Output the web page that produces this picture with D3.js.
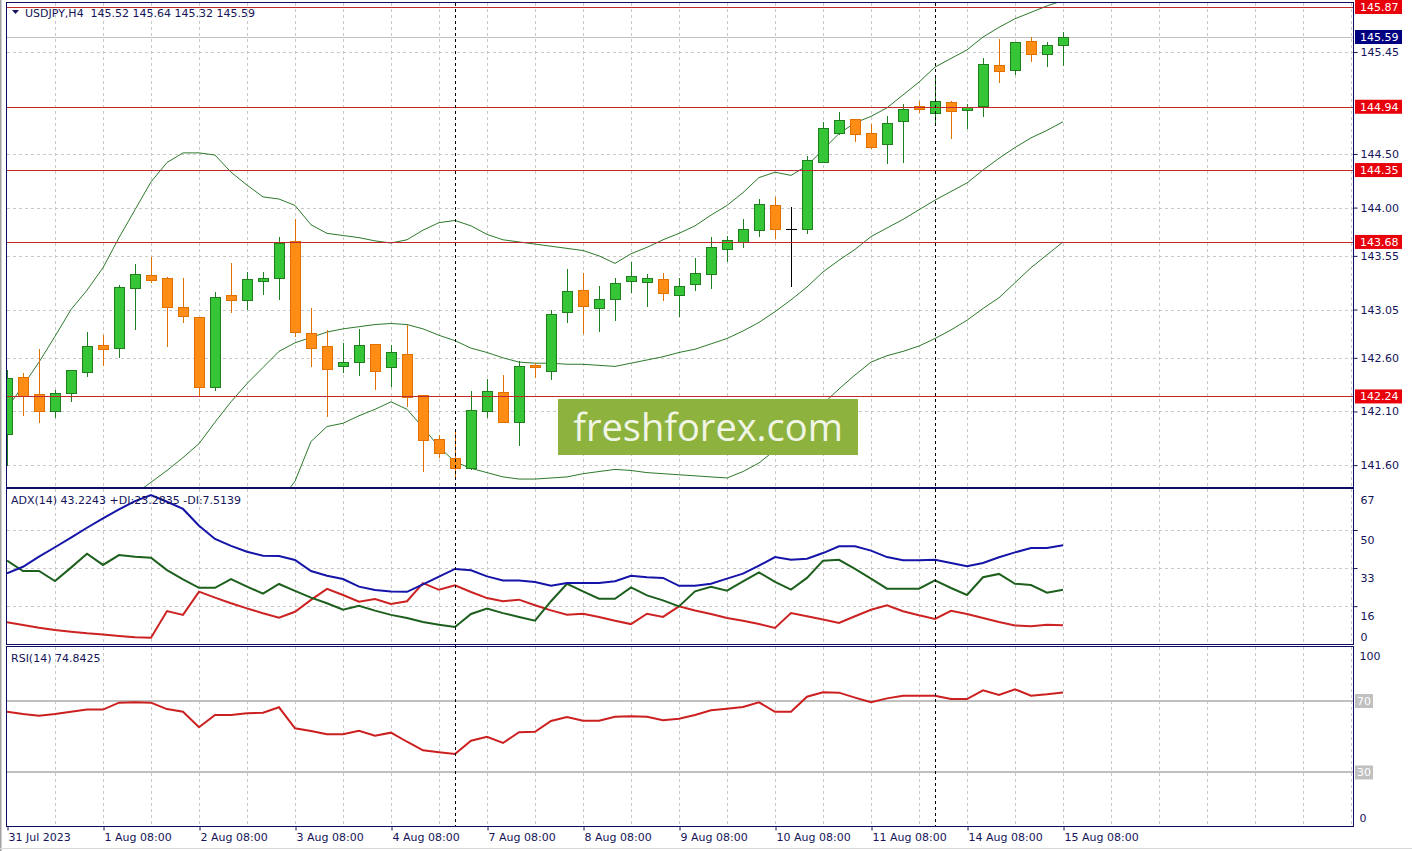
<!DOCTYPE html>
<meta charset="utf-8">
<style>
body { margin: 0; background: #fff; }
svg text { font-family: "DejaVu Sans", sans-serif; font-size: 11px; fill: #14145a; }
</style>
<svg width="1412" height="851"></svg>
<script src="https://d3js.org/d3.v7.min.js"></script>
<script>

var svg = d3.select("svg");
var left = 7, right = 1353;

// USDJPY H4 candles, 31 Jul 08:00 .. 15 Aug 08:00
var open = [141.89, 142.42, 142.26, 142.10, 142.28, 142.47, 142.72, 142.69, 143.25, 143.37,
            143.34, 143.07, 142.98, 142.33, 143.19, 143.13, 143.31, 143.34, 143.69, 142.83,
            142.71, 142.52, 142.56, 142.73, 142.51, 142.64, 142.25, 141.84, 141.67, 141.57,
            142.10, 142.28, 142.00, 142.53, 142.48, 143.02, 143.23, 143.07, 143.15, 143.31,
            143.30, 143.33, 143.19, 143.29, 143.38, 143.62, 143.68, 143.79, 144.02, 143.80,
            143.80, 144.42, 144.70, 144.83, 144.70, 144.59, 144.81, 144.95, 144.88, 144.98,
            144.91, 144.95, 145.33, 145.28, 145.55, 145.44, 145.52];
var high = [142.49, 142.46, 142.68, 142.30, 142.49, 142.84, 142.81, 143.28, 143.47, 143.54,
            143.35, 143.34, 142.98, 143.21, 143.48, 143.40, 143.40, 143.73, 143.89, 143.06,
            142.86, 142.74, 142.87, 142.73, 142.72, 142.91, 142.25, 141.88, 141.94, 142.29,
            142.40, 142.44, 142.57, 142.55, 143.05, 143.43, 143.39, 143.27, 143.34, 143.49,
            143.38, 143.39, 143.34, 143.53, 143.73, 143.74, 143.89, 144.08, 144.10, 144.01,
            144.48, 144.80, 144.89, 144.83, 144.78, 144.85, 144.97, 144.99, 145.24, 144.99,
            144.97, 145.39, 145.57, 145.54, 145.59, 145.54, 145.64];
var low = [141.59, 142.06, 141.99, 142.04, 142.19, 142.42, 142.52, 142.60, 142.86, 143.30,
           142.70, 142.92, 142.24, 142.29, 143.02, 143.05, 143.19, 143.14, 142.79, 142.51,
           142.05, 142.46, 142.43, 142.30, 142.33, 142.14, 141.54, 141.67, 141.49, 141.55,
           142.04, 141.99, 141.78, 142.41, 142.39, 142.92, 142.82, 142.84, 142.94, 143.20,
           143.07, 143.13, 142.98, 143.22, 143.24, 143.49, 143.62, 143.73, 143.71, 143.26,
           143.75, 144.42, 144.68, 144.61, 144.55, 144.41, 144.42, 144.88, 144.78, 144.64,
           144.73, 144.84, 145.16, 145.24, 145.36, 145.31, 145.32];
var close = [142.41, 142.24, 142.10, 142.27, 142.49, 142.71, 142.68, 143.26, 143.38, 143.32,
             143.07, 142.99, 142.33, 143.17, 143.14, 143.33, 143.34, 143.67, 142.84, 142.69,
             142.50, 142.56, 142.72, 142.48, 142.65, 142.24, 141.83, 141.71, 141.58, 142.11,
             142.29, 142.00, 142.52, 142.51, 143.01, 143.22, 143.08, 143.15, 143.30, 143.36,
             143.34, 143.20, 143.27, 143.39, 143.63, 143.70, 143.80, 144.03, 143.80, 143.80,
             144.44, 144.74, 144.82, 144.69, 144.57, 144.79, 144.92, 144.92, 144.99, 144.90,
             144.94, 145.34, 145.27, 145.54, 145.43, 145.52, 145.59];

// Bollinger bands
var bbUpper = [142.13, 142.34, 142.56, 142.80, 143.05, 143.23, 143.44, 143.72, 143.98, 144.24,
               144.42, 144.51, 144.51, 144.49, 144.33, 144.21, 144.10, 144.08, 144.02, 143.84,
               143.76, 143.74, 143.72, 143.69, 143.67, 143.70, 143.79, 143.86, 143.88, 143.83,
               143.75, 143.70, 143.68, 143.66, 143.64, 143.62, 143.60, 143.55, 143.48, 143.57,
               143.63, 143.70, 143.76, 143.83, 143.93, 144.02, 144.14, 144.28, 144.33, 144.30,
               144.39, 144.54, 144.69, 144.79, 144.85, 144.93, 145.05, 145.17, 145.31, 145.39,
               145.47, 145.59, 145.68, 145.76, 145.82, 145.88, 145.93];
var bbMiddle = [140.44, 140.55, 140.66, 140.77, 140.88, 141.00, 141.11, 141.22, 141.33, 141.44,
                141.55, 141.67, 141.80, 142.00, 142.19, 142.36, 142.51, 142.66, 142.74, 142.79,
                142.84, 142.87, 142.89, 142.91, 142.92, 142.91, 142.87, 142.81, 142.76, 142.69,
                142.65, 142.60, 142.56, 142.55, 142.55, 142.54, 142.54, 142.53, 142.52, 142.55,
                142.58, 142.61, 142.65, 142.68, 142.73, 142.78, 142.85, 142.93, 143.03, 143.14,
                143.26, 143.40, 143.51, 143.61, 143.73, 143.81, 143.89, 143.98, 144.07, 144.15,
                144.23, 144.35, 144.46, 144.56, 144.65, 144.72, 144.80];
var bbLower = [138.74, 138.76, 138.76, 138.74, 138.72, 138.76, 138.78, 138.72, 138.68, 138.65,
               138.69, 138.82, 139.08, 139.51, 140.04, 140.50, 140.93, 141.25, 141.45, 141.82,
               141.96, 141.99, 142.06, 142.12, 142.19, 142.12, 141.95, 141.77, 141.63, 141.57,
               141.53, 141.49, 141.47, 141.47, 141.48, 141.49, 141.52, 141.54, 141.56, 141.55,
               141.53, 141.52, 141.51, 141.50, 141.49, 141.48, 141.54, 141.62, 141.74, 141.89,
               142.03, 142.17, 142.31, 142.44, 142.56, 142.62, 142.66, 142.71, 142.78, 142.86,
               142.95, 143.06, 143.16, 143.30, 143.44, 143.56, 143.68];

// ADX(14)
var adx = [30.7, 33.6, 38.1, 42.3, 46.6, 51.0, 55.2, 59.2, 62.9, 65.6,
           62.6, 59.4, 51.9, 46.0, 42.9, 40.3, 38.5, 38.4, 36.6, 31.7,
           29.6, 28.1, 24.7, 23.2, 22.5, 22.4, 25.7, 29.2, 32.6, 32.0,
           29.3, 27.5, 27.4, 26.8, 25.1, 26.3, 26.3, 26.3, 27.1, 29.6,
           28.9, 28.6, 25.1, 25.1, 26.0, 28.3, 30.5, 34.1, 37.9, 36.7,
           37.2, 39.7, 42.7, 42.7, 40.8, 37.9, 36.5, 36.5, 36.7, 35.3,
           33.8, 35.3, 37.8, 40.0, 42.0, 42.0, 43.22];
var plusDI = [36.3, 31.7, 31.7, 27.2, 33.2, 39.4, 34.4, 38.8, 38.1, 37.6,
              32.1, 28.0, 24.2, 24.2, 28.1, 24.7, 21.6, 25.9, 22.8, 19.8,
              17.3, 14.4, 16.2, 14.0, 12.1, 10.7, 8.9, 7.7, 6.7, 12.5,
              14.9, 12.9, 11.2, 9.5, 18.2, 26.0, 22.6, 19.3, 19.3, 24.4,
              20.8, 18.6, 15.9, 22.6, 24.6, 22.9, 27.1, 31.1, 26.8, 23.4,
              28.6, 36.3, 36.7, 32.6, 28.3, 23.8, 23.8, 23.8, 27.5, 24.1,
              21.0, 28.9, 30.4, 26.0, 25.4, 22.0, 23.28];
var minusDI = [8.8, 7.6, 6.4, 5.4, 4.6, 3.9, 3.4, 2.7, 2.1, 1.9,
               13.8, 12.1, 22.5, 19.8, 17.3, 15.0, 12.8, 10.8, 13.5, 18.8,
               23.7, 21.0, 18.0, 19.2, 17.0, 18.2, 26.3, 23.3, 25.3, 22.3,
               19.6, 18.2, 18.9, 16.4, 14.1, 12.2, 12.6, 11.2, 9.5, 8.0,
               12.6, 11.2, 15.9, 14.1, 12.5, 10.7, 9.5, 8.0, 6.3, 12.9,
               11.5, 10.0, 8.5, 11.5, 14.4, 16.4, 13.7, 11.9, 10.3, 13.9,
               12.5, 10.7, 8.9, 7.4, 7.0, 7.7, 7.51];

// RSI(14)
var rsi = [64.0, 62.7, 61.8, 62.7, 64.0, 65.2, 65.2, 69.1, 69.3, 69.1,
           65.5, 64.0, 55.3, 62.2, 62.2, 63.1, 63.5, 66.5, 54.7, 53.2,
           51.4, 51.4, 53.4, 50.6, 52.3, 47.2, 42.4, 41.3, 40.3, 47.8,
           50.0, 46.5, 52.5, 52.8, 58.8, 61.1, 59.0, 59.0, 61.2, 61.5,
           61.2, 59.2, 60.1, 62.2, 64.8, 65.7, 66.7, 69.3, 64.0, 64.0,
           72.4, 74.9, 74.7, 71.9, 69.3, 71.5, 73.0, 73.0, 73.0, 71.1,
           71.1, 76.0, 73.4, 76.6, 73.0, 73.8, 74.84];

var priceTicks = [145.45, 144.50, 144.00, 143.55, 143.05, 142.60, 142.10, 141.60];
var levels = [145.87, 144.94, 144.35, 143.68, 142.24];
var bid = 145.59;
var timeIdx = [0, 6, 12, 18, 24, 30, 36, 42, 48, 54, 60, 66];
var timeLabels = ["31 Jul 2023", "1 Aug 08:00", "2 Aug 08:00", "3 Aug 08:00", "4 Aug 08:00",
                  "7 Aug 08:00", "8 Aug 08:00", "9 Aug 08:00", "10 Aug 08:00", "11 Aug 08:00",
                  "14 Aug 08:00", "15 Aug 08:00"];
var separators = [28, 58];
var adxTicks = [67, 50, 33, 16, 0];
var adxGrid = [50, 33, 16];
var rsiTicks = [100, 0];
var rsiLevels = [70, 30];

var idx = d3.range(open.length);

var x = d3.scaleLinear().domain([0, 84.125]).range([left, right]);
var y = d3.scaleLinear().domain([141.396, 145.907]).range([487, 3]);
var yAdx = d3.scaleLinear().domain([0, 68.3]).range([642, 489]);
var yRsi = d3.scaleLinear().domain([0, 100]).range([826, 647.5]);

var panels = [
  {id: "main", top: 3, bottom: 487},
  {id: "adx", top: 489, bottom: 644},
  {id: "rsi", top: 647, bottom: 826}
];

var defs = svg.append("defs");
panels.forEach(function(p) {
  defs.append("clipPath").attr("id", "clip-" + p.id)
    .append("rect")
      .attr("x", left).attr("y", p.top)
      .attr("width", right - left).attr("height", p.bottom - p.top);
});

// outer window frame
svg.append("line").attr("x1", 0.5).attr("x2", 0.5).attr("y1", 0).attr("y2", 851)
    .attr("stroke", "#a0a0a0").attr("stroke-width", 2);
svg.append("line").attr("x1", 0).attr("x2", 1412).attr("y1", 848.5).attr("y2", 848.5)
    .attr("stroke", "#d8d8d8");

// vertical grid, every 3 bars
var gridIdx = d3.range(3, 85, 3);
panels.forEach(function(p) {
  svg.append("g").attr("clip-path", "url(#clip-" + p.id + ")")
    .selectAll("line").data(gridIdx).enter().append("line")
      .attr("x1", function(d) { return Math.round(x(d)) + 0.5; })
      .attr("x2", function(d) { return Math.round(x(d)) + 0.5; })
      .attr("y1", p.top).attr("y2", p.bottom)
      .attr("stroke", "#c8c8c8").attr("stroke-dasharray", "3,3");
});

// ---- main panel ----
var main = svg.append("g").attr("clip-path", "url(#clip-main)");

main.selectAll(".hgrid").data(priceTicks).enter().append("line")
    .attr("x1", left).attr("x2", right)
    .attr("y1", function(d) { return Math.round(y(d)) + 0.5; })
    .attr("y2", function(d) { return Math.round(y(d)) + 0.5; })
    .attr("stroke", "#c8c8c8").attr("stroke-dasharray", "3,3");

main.append("line")
    .attr("x1", left).attr("x2", right)
    .attr("y1", Math.round(y(bid)) + 0.5).attr("y2", Math.round(y(bid)) + 0.5)
    .attr("stroke", "#c0c0c0");

var bandLine = function(arr) {
  return d3.line().x(function(d, i) { return x(i); }).y(function(d) { return y(d); })(arr);
};
[bbUpper, bbMiddle, bbLower].forEach(function(b) {
  main.append("path").attr("d", bandLine(b))
      .attr("fill", "none").attr("stroke", "#2c7a2c").attr("stroke-width", 1);
});

var candle = main.selectAll(".candle").data(idx).enter().append("g")
    .attr("shape-rendering", "crispEdges");

function candleColor(i) {
  if (open[i] === close[i]) return "#000";
  return close[i] > open[i] ? "#1f7f1f" : "#e07000";
}

candle.append("line")
    .attr("x1", function(i) { return Math.round(x(i)) + 0.5; })
    .attr("x2", function(i) { return Math.round(x(i)) + 0.5; })
    .attr("y1", function(i) { return y(high[i]); })
    .attr("y2", function(i) { return y(low[i]); })
    .attr("stroke", candleColor);

candle.filter(function(i) { return open[i] !== close[i]; }).append("rect")
    .attr("x", function(i) { return Math.round(x(i)) - 5 + 0.5; })
    .attr("width", 10)
    .attr("y", function(i) { return Math.round(y(Math.max(open[i], close[i]))) + 0.5; })
    .attr("height", function(i) { return Math.max(1, Math.round(Math.abs(y(open[i]) - y(close[i])))); })
    .attr("fill", function(i) { return close[i] > open[i] ? "#36c536" : "#ff8c14"; })
    .attr("stroke", candleColor);

candle.filter(function(i) { return open[i] === close[i]; }).append("line")
    .attr("x1", function(i) { return Math.round(x(i)) - 5; })
    .attr("x2", function(i) { return Math.round(x(i)) + 6; })
    .attr("y1", function(i) { return Math.round(y(open[i])) + 0.5; })
    .attr("y2", function(i) { return Math.round(y(open[i])) + 0.5; })
    .attr("stroke", "#000");

main.selectAll(".level").data(levels).enter().append("line")
    .attr("x1", left).attr("x2", right)
    .attr("y1", function(d) { return Math.round(y(d)) + 0.5; })
    .attr("y2", function(d) { return Math.round(y(d)) + 0.5; })
    .attr("stroke", "#c0282a");

// header
svg.append("path").attr("d", "M12,10L19,10L15.5,14Z").attr("fill", "#14145a");
svg.append("text").attr("x", 25).attr("y", 17).style("white-space", "pre")
    .text("USDJPY,H4  145.52 145.64 145.32 145.59");

// watermark
svg.append("rect").attr("x", 558).attr("y", 399).attr("width", 300).attr("height", 56)
    .attr("fill", "#8db33e");
svg.append("text").attr("x", 708).attr("y", 441).attr("text-anchor", "middle")
    .style("font-family", "'Open Sans', sans-serif").style("font-size", "38px")
    .style("fill", "#f1f5e6")
    .text("freshforex.com");

// ---- ADX panel ----
var adxG = svg.append("g").attr("clip-path", "url(#clip-adx)");
adxG.selectAll(".hgrid").data(adxGrid).enter().append("line")
    .attr("x1", left).attr("x2", right)
    .attr("y1", function(d) { return Math.round(yAdx(d)) + 0.5; })
    .attr("y2", function(d) { return Math.round(yAdx(d)) + 0.5; })
    .attr("stroke", "#c8c8c8").attr("stroke-dasharray", "3,3");

var adxLine = d3.line().x(function(d, i) { return x(i); }).y(function(d) { return yAdx(d); });
[[minusDI, "#cc2222"], [plusDI, "#1d5f1d"], [adx, "#1414a8"]].forEach(function(s) {
  adxG.append("path").attr("d", adxLine(s[0]))
      .attr("fill", "none").attr("stroke", s[1]).attr("stroke-width", 2);
});
svg.append("text").attr("x", 11).attr("y", 504)
    .text("ADX(14) 43.2243 +DI:23.2835 -DI:7.5139");

// ---- RSI panel ----
var rsiG = svg.append("g").attr("clip-path", "url(#clip-rsi)");
rsiG.selectAll(".lvl").data(rsiLevels).enter().append("line")
    .attr("x1", left).attr("x2", right)
    .attr("y1", function(d) { return Math.round(yRsi(d)); })
    .attr("y2", function(d) { return Math.round(yRsi(d)); })
    .attr("stroke", "#c0c0c0").attr("stroke-width", 2);
rsiG.append("path")
    .attr("d", d3.line().x(function(d, i) { return x(i); }).y(function(d) { return yRsi(d); })(rsi))
    .attr("fill", "none").attr("stroke", "#cc1f1f").attr("stroke-width", 2);
svg.append("text").attr("x", 11).attr("y", 662).text("RSI(14) 74.8425");

// period separators
svg.selectAll(".sep").data(separators).enter().append("line")
    .attr("x1", function(d) { return Math.round(x(d)) + 0.5; })
    .attr("x2", function(d) { return Math.round(x(d)) + 0.5; })
    .attr("y1", 3).attr("y2", 826)
    .attr("stroke", "#000").attr("stroke-dasharray", "3,3");

// panel borders
panels.forEach(function(p) {
  svg.append("rect")
      .attr("x", left - 0.5).attr("y", p.top - 0.5)
      .attr("width", right - left + 1).attr("height", p.bottom - p.top + 1)
      .attr("fill", "none").attr("stroke", "#0c0c64");
});

// ---- axes ----
var axisMain = svg.append("g").attr("transform", "translate(" + (right + 0.5) + ",0)")
    .call(d3.axisRight(y).tickValues(priceTicks).tickFormat(d3.format(".2f")).tickSize(4));
axisMain.select(".domain").remove();

svg.selectAll(".lvlbox").data(levels).enter().append("rect")
    .attr("x", 1355).attr("y", function(d) { return y(d) - 7; })
    .attr("width", 47).attr("height", 14).attr("fill", "#e8000b");
svg.selectAll(".lvltxt").data(levels).enter().append("text")
    .attr("x", 1360).attr("y", function(d) { return y(d); }).attr("dy", "0.36em")
    .style("fill", "#fff").text(d3.format(".2f"));

svg.append("rect").attr("x", 1355).attr("y", y(bid) - 7).attr("width", 47).attr("height", 14)
    .attr("fill", "#000080");
svg.append("text").attr("x", 1360).attr("y", y(bid)).attr("dy", "0.36em")
    .style("fill", "#fff").text(d3.format(".2f")(bid));

var axisAdx = svg.append("g").attr("transform", "translate(" + (right + 0.5) + ",0)")
    .call(d3.axisRight(yAdx).tickValues(adxTicks).tickSize(4));
axisAdx.select(".domain").remove();
axisAdx.selectAll(".tick").filter(function(d) { return d === 67 || d === 0; }).select("line").remove();
axisAdx.selectAll(".tick text")
    .attr("dy", function(d) { return d === 0 ? "-0.15em" : (d === 67 ? "1.05em" : "1.25em"); });

var axisRsi = svg.append("g").attr("transform", "translate(" + (right + 0.5) + ",0)")
    .call(d3.axisRight(yRsi).tickValues(rsiTicks).tickSize(0));
axisRsi.select(".domain").remove();
axisRsi.selectAll(".tick text").attr("x", 6)
    .attr("dy", function(d) { return d === 0 ? "-0.4em" : "1.05em"; });

svg.selectAll(".rsibox").data(rsiLevels).enter().append("rect")
    .attr("x", 1355).attr("y", function(d) { return yRsi(d) - 7; })
    .attr("width", 18).attr("height", 14).attr("fill", "#c0c0c0");
svg.selectAll(".rsitxt").data(rsiLevels).enter().append("text")
    .attr("x", 1357).attr("y", function(d) { return yRsi(d); }).attr("dy", "0.36em")
    .style("fill", "#fff").text(function(d) { return d; });

var axisTime = svg.append("g").attr("transform", "translate(0," + 826.5 + ")")
    .call(d3.axisBottom(x).tickValues(timeIdx)
      .tickFormat(function(d, i) { return timeLabels[i]; }).tickSize(4));
axisTime.select(".domain").remove();
axisTime.selectAll(".tick line").attr("transform", "translate(0.5,0)");
axisTime.selectAll(".tick text").attr("text-anchor", "start").attr("x", 1);

svg.selectAll(".tick line").attr("stroke", "#14145a");
svg.selectAll(".tick text").style("fill", "#14145a").attr("font-family", null).attr("font-size", null);

</script>
